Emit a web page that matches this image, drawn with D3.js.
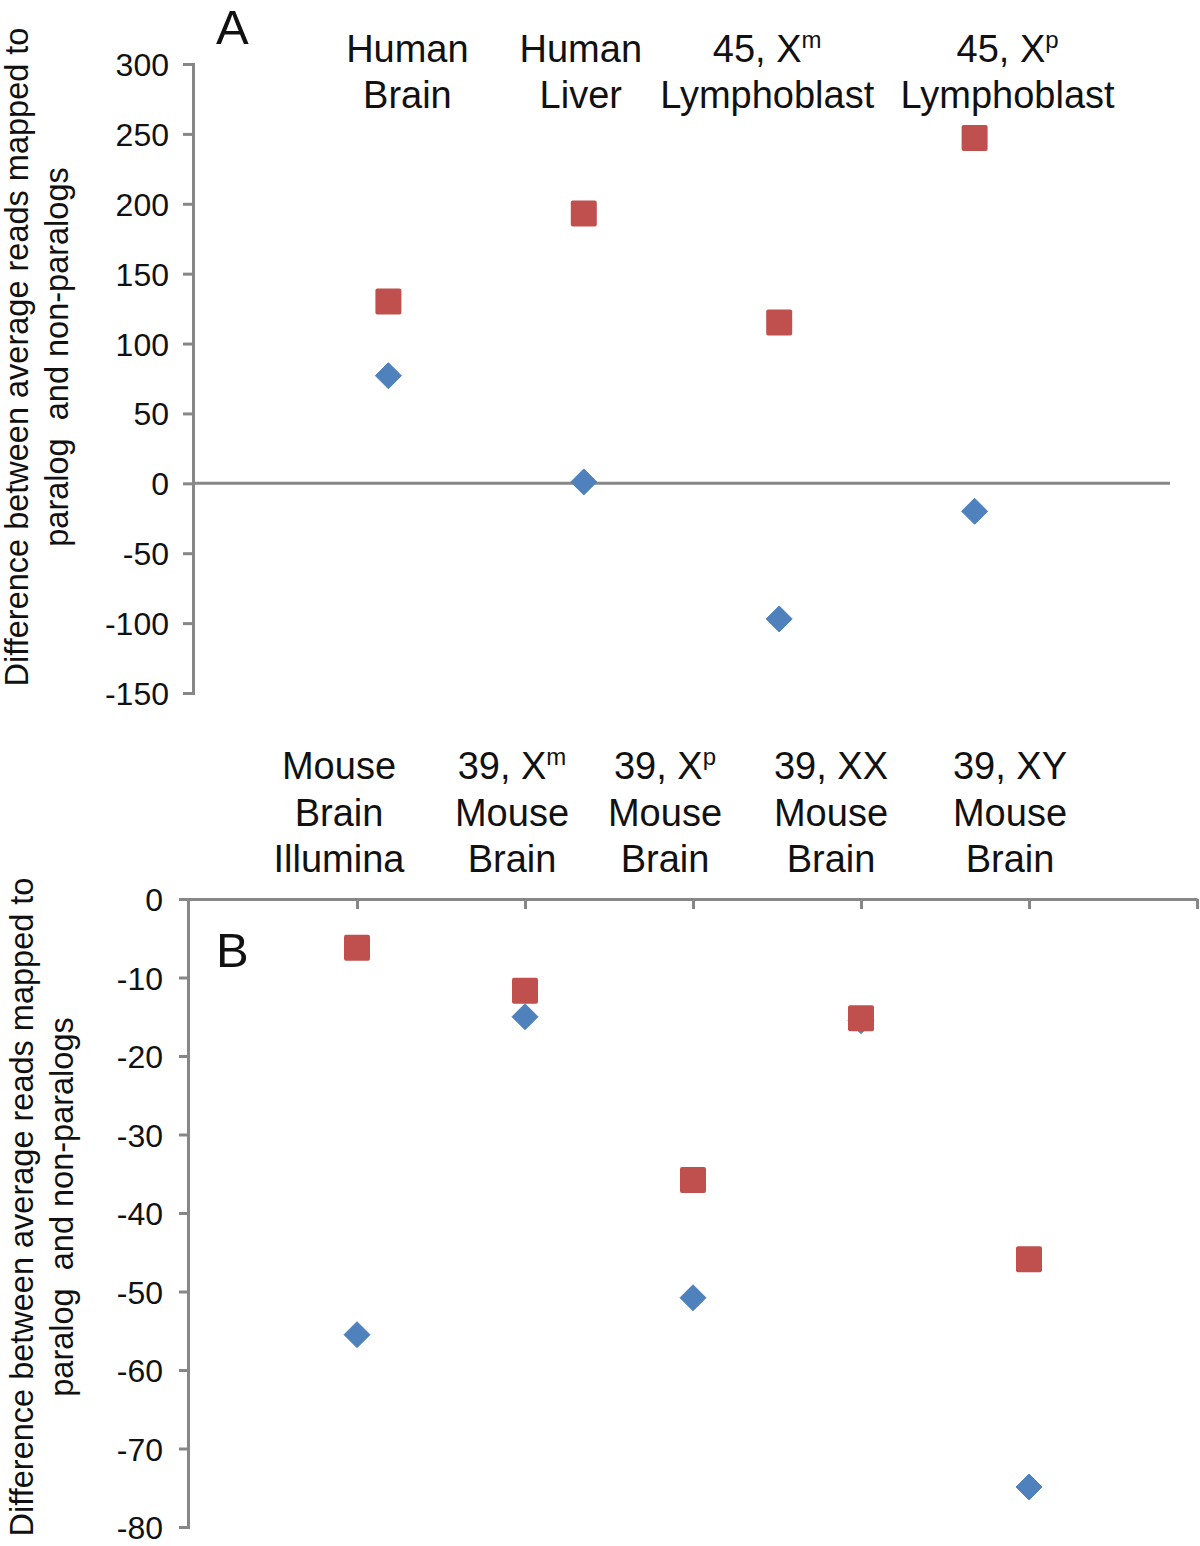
<!DOCTYPE html>
<html>
<head>
<meta charset="utf-8">
<script src="https://cdn.jsdelivr.net/npm/d3@7"></script>
<style>
html,body{margin:0;padding:0;background:#fff;}
svg text{font-family:"Liberation Sans",Arial,Helvetica,sans-serif;fill:#111;}
</style>
</head>
<body>
<svg id="chart" width="1200" height="1546"></svg>
<script>
// ---- Panel A data ----
const catsA = [["Human","Brain"],["Human","Liver"],["45, X|m","Lymphoblast"],["45, X|p","Lymphoblast"]];
const redA  = [130, 193, 115, 247];
const blueA = [77, 1, -97, -20];
const ticksA = [300, 250, 200, 150, 100, 50, 0, -50, -100, -150];

// ---- Panel B data ----
const catsB = [["Mouse","Brain","Illumina"],["39, X|m","Mouse","Brain"],["39, X|p","Mouse","Brain"],["39, XX","Mouse","Brain"],["39, XY","Mouse","Brain"]];
const redB  = [-6.2, -11.7, -35.8, -15.2, -45.9];
const blueB = [-55.5, -15.0, -50.8, -15.5, -74.9];
const ticksB = [0, -10, -20, -30, -40, -50, -60, -70, -80];

const yTitle = ["Difference between average reads mapped to", "paralog  and non-paralogs"];

const RED = "#C0504D", BLUE = "#4F81BD", AXIS = "#878787";
const svg = d3.select("#chart");

function drawTitle(cx, cy, gap) {
  const t = svg.append("text")
    .attr("transform", `translate(${cx},${cy}) rotate(-90)`)
    .attr("text-anchor", "middle").attr("font-size", 32.5)
    .style("white-space", "pre").attr("xml:space", "preserve");
  yTitle.forEach((s, i) => t.append("tspan").attr("x", 0).attr("y", i * gap).text(s));
}

function drawLabels(cats, x, offsets, baselines) {
  cats.forEach((lines, i) => {
    const t = svg.append("text").attr("text-anchor", "middle").attr("font-size", 38);
    lines.forEach((ln, j) => {
      const parts = ln.split("|");
      t.append("tspan").attr("x", x(i + 1) + offsets[i]).attr("y", baselines[j]).text(parts[0]);
      if (parts[1]) {
        t.append("tspan").attr("font-size", 24).attr("dy", -14).text(parts[1]);
      }
    });
  });
}

function markers(g, x, y, red, blue) {
  g.selectAll(".dia").data(blue).join("path")
    .attr("d", "M0,-13L13,0L0,13L-13,0Z")
    .attr("transform", (d, i) => `translate(${x(i + 1)},${y(d)})`)
    .attr("fill", BLUE).attr("stroke", BLUE).attr("stroke-width", 1).attr("stroke-linejoin", "round");
  g.selectAll(".sq").data(red).join("rect")
    .attr("x", (d, i) => x(i + 1) - 13).attr("y", d => y(d) - 13)
    .attr("width", 26).attr("height", 26).attr("rx", 2)
    .attr("fill", RED);
}

function styleAxis(g) {
  g.selectAll("path,line").attr("stroke", AXIS).attr("stroke-width", 3);
  g.selectAll("text").attr("font-size", 32).attr("fill", "#111")
    .attr("font-family", '"Liberation Sans",Arial,sans-serif');
}

const fmt = d => String(d);

// ---- Panel A ----
const xA = d3.scaleLinear().domain([0, 5]).range([193, 1170]);
const yA = d3.scaleLinear().domain([-150, 300]).range([693, 64]);
const gA = svg.append("g");
const axA = gA.append("g").attr("transform", "translate(193,0)")
  .call(d3.axisLeft(yA).tickValues(ticksA).tickFormat(fmt).tickSize(10).tickPadding(14).tickSizeOuter(10));
styleAxis(axA);
axA.selectAll("text").attr("dy", "0.36em");
gA.append("line").attr("x1", xA(0)).attr("x2", xA(5)).attr("y1", yA(0)).attr("y2", yA(0))
  .attr("stroke", AXIS).attr("stroke-width", 3);
markers(gA, xA, yA, redA, blueA);
svg.append("text").attr("x", 216).attr("y", 44).attr("font-size", 49).text("A");
drawLabels(catsA, xA, [19, -3, -12, 33], [62, 108]);
drawTitle(28, 357, 40);

// ---- Panel B ----
const xB = d3.scaleLinear().domain([0, 6]).range([189, 1197]);
const yB = d3.scaleLinear().domain([-80, 0]).range([1527, 899]);
const gB = svg.append("g");
const axBy = gB.append("g").attr("transform", "translate(188,0)")
  .call(d3.axisLeft(yB).tickValues(ticksB).tickFormat(fmt).tickSize(9).tickPadding(16).tickSizeOuter(9));
styleAxis(axBy);
axBy.selectAll("text").attr("dy", "0.36em");
const axBx = gB.append("g").attr("transform", `translate(0,${yB(0)})`)
  .call(d3.axisBottom(xB).tickValues([1, 2, 3, 4, 5, 6]).tickSize(10).tickSizeOuter(0).tickFormat(""));
styleAxis(axBx);
markers(gB, xB, yB, redB, blueB);
svg.append("text").attr("x", 216).attr("y", 967).attr("font-size", 49).text("B");
drawLabels(catsB, xB, [-18, -13, -28, -30, -19], [779, 826, 872]);
drawTitle(33, 1207, 40);
</script>
</body>
</html>
